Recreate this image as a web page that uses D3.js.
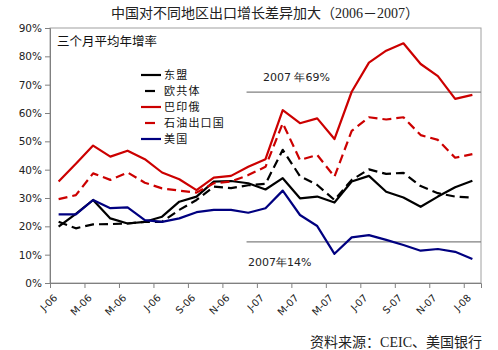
<!DOCTYPE html>
<html><head><meta charset="utf-8">
<script src="https://cdn.jsdelivr.net/npm/d3@7"></script>
<style>body{margin:0;background:#fff}svg{display:block}</style>
</head><body>
<svg id="c" width="498" height="350"></svg>
<script>
// ---- data ----
const tickLabels = ["J-06","M-06","M-06","J-06","S-06","N-06","J-07","M-07","M-07","J-07","S-07","N-07","J-08"];
const nMonths = 25; // Jan 2006 .. Jan 2008
const seriesNames = ["东盟","欧共体","巴印俄","石油出口国","美国"];
const asean = [19.9,24.4,29.3,22.8,21.0,21.6,23.4,28.7,30.5,35.8,36.0,35.2,33.0,37.0,29.9,30.5,28.4,35.8,37.8,32.2,30.2,26.9,30.5,33.8,36.1];
const eu    = [21.6,19.3,20.7,20.8,21.0,21.6,21.6,25.8,29.3,34.0,33.5,34.5,35.0,47.0,37.7,34.6,29.3,36.4,40.1,38.5,38.9,34.2,31.7,30.5,30.1];
const bri   = [35.8,42.1,48.5,44.6,46.7,43.7,39.0,36.6,32.8,37.2,37.8,41.0,43.7,61.0,56.4,58.1,50.8,67.5,77.8,82.0,84.6,77.3,73.0,65.0,66.4];
const oil   = [29.6,31.0,38.7,36.4,39.0,35.4,33.4,32.6,31.9,35.2,35.8,38.1,41.0,56.4,43.4,45.2,37.5,53.7,58.5,57.7,58.5,52.2,50.5,44.2,45.5];
const us    = [24.2,24.2,29.3,26.4,26.7,22.2,21.6,22.8,25.0,25.8,25.8,24.8,26.4,32.6,24.0,20.1,10.3,16.1,16.9,15.2,13.4,11.4,12.0,11.0,8.5];
const refValues = [67.4, 14.5];
const refLabels = ["2007 年69%", "2007年14%"];
const refStart = 11.4;
const yTicks = [0,10,20,30,40,50,60,70,80,90];
const title = "中国对不同地区出口增长差异加大（2006－2007）";
const subtitle = "三个月平均年增率";
const source = "资料来源：CEIC、美国银行";

// ---- chart ----
const svg = d3.select("#c");
const L=50, R=481, T=28, B=283;
const x = d3.scaleLinear().domain([0,nMonths]).range([L,R]);
const y = d3.scaleLinear().domain([0,90]).range([B,T]);
const cjk = "'Noto Sans CJK SC', sans-serif";
const serif = "'Liberation Serif', 'Noto Sans CJK SC', serif";
const latin = "'DejaVu Sans', Verdana, sans-serif";

// frame
svg.append("rect").attr("x",L).attr("y",T).attr("width",R-L).attr("height",B-T)
  .attr("fill","none").attr("stroke","#a0a0a0").attr("stroke-width",1);

// y axis
const ya = svg.append("g").attr("transform",`translate(${L},0)`)
  .call(d3.axisLeft(y).tickValues(yTicks).tickSize(5).tickPadding(3).tickFormat(d=>d+"%"));
ya.select(".domain").attr("stroke","#808080");
ya.selectAll(".tick line").attr("stroke","#808080");
ya.selectAll("text").attr("font-family",latin).attr("font-size","10.5px").attr("fill","#222");

// x axis
const xa = svg.append("g").attr("transform",`translate(0,${B})`)
  .call(d3.axisBottom(x).tickValues(d3.range(0,nMonths,2)).tickSize(5)
    .tickFormat((d,i)=>tickLabels[i]));
xa.select(".domain").attr("stroke","#808080");
xa.selectAll(".tick line").attr("stroke","#808080");
xa.selectAll("text").attr("font-family",latin).attr("font-size","10px").attr("fill","#222")
  .attr("text-anchor","end").attr("x",0).attr("y",0).attr("dy","0.35em")
  .attr("transform","translate(5,13) rotate(-45)");

// reference lines
refValues.forEach((v,i)=>{
  svg.append("line").attr("x1",x(refStart)).attr("x2",R).attr("y1",y(v)).attr("y2",y(v))
    .attr("stroke","#808080").attr("stroke-width",1.2);
});
svg.append("text").attr("x",263).attr("y",y(refValues[0])-11).text(refLabels[0])
  .attr("font-family",latin).attr("font-size","11px").attr("fill","#222");
svg.append("text").attr("x",248).attr("y",y(refValues[1])+24).text(refLabels[1])
  .attr("font-family",latin).attr("font-size","11px").attr("fill","#222");

// series
const series = [
  {name:seriesNames[0], vals:asean, color:"#000000", dash:null},
  {name:seriesNames[1], vals:eu,    color:"#000000", dash:"9,5"},
  {name:seriesNames[2], vals:bri,   color:"#cc0000", dash:null},
  {name:seriesNames[3], vals:oil,   color:"#cc0000", dash:"9,5"},
  {name:seriesNames[4], vals:us,    color:"#000080", dash:null}
];
const line = d3.line().x((d,i)=>x(i+0.5)).y(d=>y(d));
series.forEach(s=>{
  svg.append("path").datum(s.vals).attr("d",line).attr("fill","none")
    .attr("stroke",s.color).attr("stroke-width",2.2)
    .attr("stroke-dasharray",s.dash).attr("stroke-linejoin","round");
});

// legend
const lg = svg.append("g");
series.forEach((s,i)=>{
  const yy = 75 + i*16;
  if (s.dash) {
    lg.append("line").attr("x1",145).attr("x2",155).attr("y1",yy).attr("y2",yy)
      .attr("stroke",s.color).attr("stroke-width",2.2);
  } else {
    lg.append("line").attr("x1",141).attr("x2",161).attr("y1",yy).attr("y2",yy)
      .attr("stroke",s.color).attr("stroke-width",2.2);
  }
  lg.append("text").attr("x",164).attr("y",yy).attr("dy","0.38em").text(s.name)
    .attr("font-family",cjk).attr("font-size","11px").attr("letter-spacing","1.2px").attr("fill","#111");
});

// texts
svg.append("text").attr("x",265).attr("y",18).attr("text-anchor","middle").text(title)
  .attr("font-family",serif).attr("font-size","14px").attr("fill","#222");
svg.append("text").attr("x",57).attr("y",46).text(subtitle)
  .attr("font-family",cjk).attr("font-size","12.5px").attr("fill","#111");
svg.append("text").attr("x",482).attr("y",347).attr("text-anchor","end").text(source)
  .attr("font-family",serif).attr("font-size","14px").attr("fill","#222");
</script>
</body></html>
